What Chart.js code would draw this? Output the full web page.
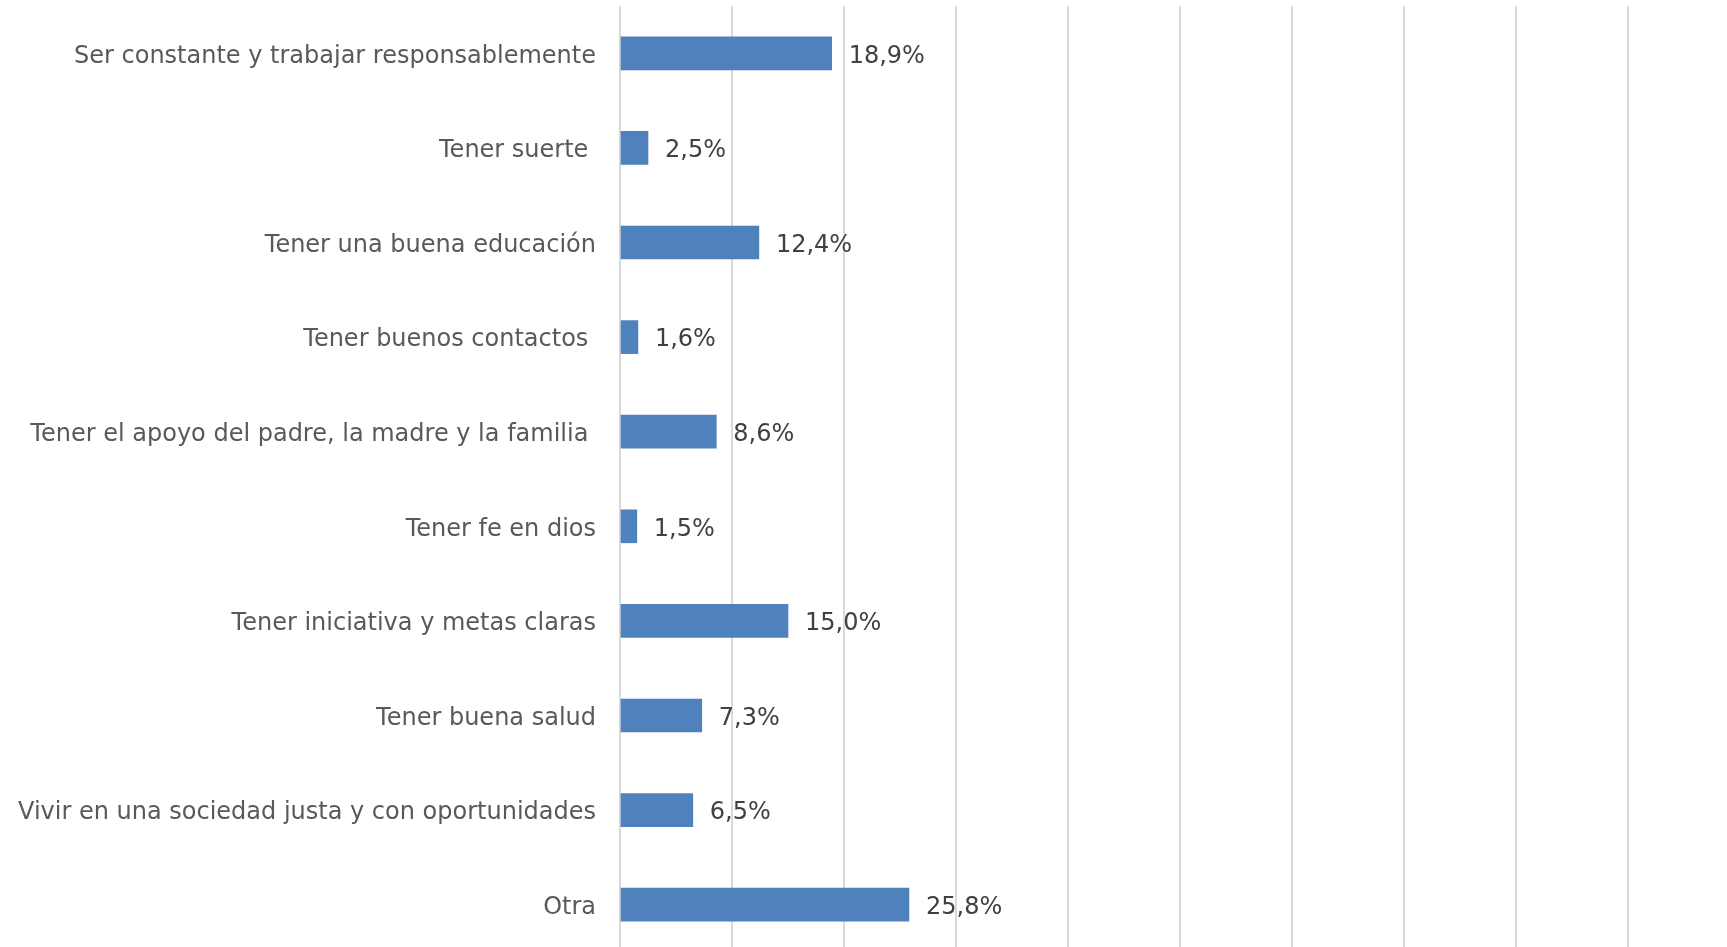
<!DOCTYPE html>
<html>
<head>
<meta charset="utf-8">
<script src="https://cdn.jsdelivr.net/npm/chart.js@4/dist/chart.umd.min.js"></script>
<style>
  html, body { margin:0; padding:0; width:1727px; height:947px; overflow:hidden; background:#fff; }
  #wrap { position:absolute; left:0; top:0; width:1745px; height:955px; }
</style>
</head>
<body>
<div id="wrap"><canvas id="chart"></canvas></div>
<script>
'use strict';

// categories as in the source (some carry a trailing space)
const CATEGORIES = [
  'Ser constante y trabajar responsablemente',
  'Tener suerte ',
  'Tener una buena educación',
  'Tener buenos contactos ',
  'Tener el apoyo del padre, la madre y la familia ',
  'Tener fe en dios',
  'Tener iniciativa y metas claras',
  'Tener buena salud',
  'Vivir en una sociedad justa y con oportunidades',
  'Otra'
];
const VALUES = [18.9, 2.5, 12.4, 1.6, 8.6, 1.5, 15.0, 7.3, 6.5, 25.8];
const X_MIN = 0, X_MAX = 100, X_STEP = 10;

const FONT = 'DejaVu Sans, Verdana, sans-serif';
const fmt = v => v.toFixed(1).replace('.', ',') + '%';

// value labels right of each bar
const valueLabels = {
  id: 'valueLabels',
  afterDatasetsDraw(chart) {
    const ctx = chart.ctx;
    const meta = chart.getDatasetMeta(0);
    ctx.save();
    ctx.font = '24px ' + FONT;
    ctx.fillStyle = '#404040';
    ctx.textAlign = 'left';
    ctx.textBaseline = 'middle';
    meta.data.forEach((bar, i) => {
      ctx.fillText(fmt(VALUES[i]), bar.x + 17, bar.y + 3);
    });
    ctx.restore();
  }
};

new Chart(document.getElementById('chart'), {
  type: 'bar',
  data: {
    labels: CATEGORIES,
    datasets: [{
      data: VALUES,
      backgroundColor: '#4f81bd',
      borderWidth: 0,
      barThickness: 33
    }]
  },
  options: {
    indexAxis: 'y',
    responsive: true,
    maintainAspectRatio: false,
    animation: false,
    layout: { padding: { top: 6, right: 5, bottom: 3, left: 0 } },
    plugins: { legend: { display: false }, tooltip: { enabled: false } },
    scales: {
      x: {
        min: X_MIN, max: X_MAX,
        ticks: { display: false, stepSize: X_STEP },
        grid: { color: '#d9d9d9', lineWidth: 2, drawTicks: false },
        border: { display: false }
      },
      y: {
        // fixed label column; drop the vertical padding the tick padding adds
        afterFit: s => { s.width = 620; s.paddingTop = 0; s.paddingBottom = 0; },
        grid: { display: false, drawTicks: false },
        border: { display: false },
        ticks: { color: '#595959', padding: 24, labelOffset: 3, font: { family: FONT, size: 24 } }
      }
    }
  },
  plugins: [valueLabels]
});
</script>
</body>
</html>
